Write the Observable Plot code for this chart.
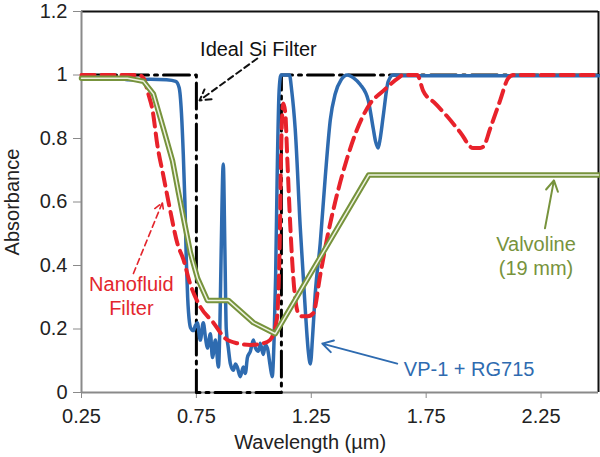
<!DOCTYPE html>
<html>
<head>
<meta charset="utf-8">
<script src="https://cdn.jsdelivr.net/npm/d3@7"></script>
<script src="https://cdn.jsdelivr.net/npm/@observablehq/plot@0.6"></script>
<style>
  html, body { margin: 0; padding: 0; background: #fff; }
  #chart { width: 600px; height: 457px; }
</style>
</head>
<body>
<div id="chart"></div>
<script>
// ---- Data ----
// Ideal Si filter (black dash-dot)
const idealWl  = [0.25, 0.75, 0.75, 1.12, 1.12, 2.5];
const idealAbs = [1.0, 1.0, 0.0, 0.0, 1.0, 1.0];

// VP-1 + RG715 (blue)
const vpWl = [0.25, 0.35, 0.42, 0.45, 0.55, 0.62, 0.66, 0.675, 0.685, 0.693, 0.70, 0.706, 0.712, 0.72,
  0.724, 0.737, 0.745, 0.754, 0.767, 0.78, 0.79, 0.798, 0.811, 0.82, 0.833, 0.846, 0.852, 0.858, 0.867, 0.874, 0.88,
  0.889, 0.898, 0.911, 0.92, 0.928, 0.941, 0.954, 0.963, 0.972, 0.985, 0.998, 1.007, 1.02, 1.028, 1.041, 1.05, 1.059,
  1.072, 1.08, 1.088, 1.095, 1.102, 1.11, 1.118, 1.155, 1.165, 1.18, 1.202, 1.224, 1.237, 1.246, 1.256, 1.267, 1.289,
  1.311, 1.333, 1.354, 1.38, 1.407, 1.435, 1.463, 1.498, 1.52, 1.53, 1.541, 1.55, 1.563, 1.585, 1.607, 1.65, 2.5];
const vpAbs = [0.995, 0.993, 0.99, 0.985, 0.987, 0.985, 0.98, 0.96, 0.88, 0.75, 0.6, 0.42, 0.3, 0.22,
  0.205, 0.195, 0.21, 0.22, 0.165, 0.22, 0.17, 0.14, 0.185, 0.11, 0.165, 0.08, 0.2, 0.45, 0.72, 0.45, 0.2,
  0.14, 0.09, 0.07, 0.09, 0.08, 0.05, 0.08, 0.06, 0.11, 0.13, 0.165, 0.14, 0.13, 0.155, 0.12, 0.15, 0.14,
  0.08, 0.05, 0.165, 0.37, 0.7, 0.95, 1.0, 1.0, 0.95, 0.83, 0.52, 0.26, 0.13, 0.09, 0.18, 0.31, 0.47,
  0.68, 0.86, 0.94, 0.985, 1.0, 0.99, 0.97, 0.92, 0.83, 0.79, 0.77, 0.8, 0.87, 0.98, 1.0, 0.998, 0.998];

// Nanofluid filter (red dashed)
const nanoWl = [0.25, 0.45, 0.5, 0.52, 0.541, 0.559, 0.58, 0.607, 0.637, 0.667, 0.693, 0.724, 0.767, 0.824, 0.876,
  0.928, 0.985, 1.04, 1.07, 1.1, 1.112, 1.12, 1.128, 1.137, 1.146, 1.159, 1.172, 1.193, 1.21, 1.235, 1.259, 1.289,
  1.32, 1.354, 1.407, 1.45, 1.506, 1.563, 1.628, 1.65, 1.711, 1.737, 1.79, 1.841, 1.898, 1.954, 1.985, 2.0, 2.028,
  2.072, 2.107, 2.13, 2.5];
const nanoAbs = [1.0, 1.0, 1.0, 0.99, 0.94, 0.89, 0.78, 0.68, 0.57, 0.47, 0.42, 0.34, 0.27, 0.22, 0.17,
  0.155, 0.15, 0.155, 0.165, 0.23, 0.45, 0.8, 0.91, 0.88, 0.73, 0.52, 0.36, 0.25, 0.24, 0.24, 0.25, 0.37,
  0.49, 0.6, 0.74, 0.83, 0.91, 0.95, 0.99, 1.0, 1.0, 0.95, 0.91, 0.87, 0.82, 0.77, 0.77, 0.775, 0.83,
  0.92, 0.99, 1.0, 1.0];

// Valvoline (19 mm) (green double line)
const valvWl  = [0.25, 0.45, 0.52, 0.563, 0.607, 0.646, 0.672, 0.702, 0.724, 0.755, 0.798, 0.889, 0.998, 1.093, 1.5, 2.5];
const valvAbs = [0.99, 0.99, 0.98, 0.94, 0.83, 0.73, 0.63, 0.52, 0.44, 0.36, 0.29, 0.29, 0.22, 0.185, 0.685, 0.685];

// Axis ticks
const xTicks = [0.25, 0.75, 1.25, 1.75, 2.25];
const xTickLabels = ["0.25", "0.75", "1.25", "1.75", "2.25"];
const yTicks = [0, 0.2, 0.4, 0.6, 0.8, 1.0, 1.2];
const yTickLabels = ["0", "0.2", "0.4", "0.6", "0.8", "1", "1.2"];
const xTitle = "Wavelength (µm)";
const yTitle = "Absorbance";

// Annotations (data coordinates)
const annoText = ["Ideal Si Filter", "Nanofluid\nFilter", "Valvoline\n(19 mm)", "VP-1 + RG715"];
const annoX = [1.02, 0.467, 2.228, 1.937];
const annoY = [1.083, 0.306, 0.432, 0.076];
const annoColor = ["#111111", "#E3262D", "#77933C", "#2E6BB0"];
const arrowX1 = [1.015, 0.476, 2.267, 1.624];
const arrowY1 = [1.052, 0.375, 0.517, 0.091];
const arrowX2 = [0.764, 0.602, 2.306, 1.298];
const arrowY2 = [0.92, 0.598, 0.668, 0.154];

// ---- Build tables ----
const zip = (xs, ys) => xs.map((x, i) => ({wl: x, abs: ys[i]}));
const ideal = zip(idealWl, idealAbs);
const vp = zip(vpWl, vpAbs);
const nano = zip(nanoWl, nanoAbs);
const valv = zip(valvWl, valvAbs);
const annos = annoText.map((t, i) => ({text: t, x: annoX[i], y: annoY[i], color: annoColor[i]}));
const arrows = arrowX1.map((x, i) => ({x1: x, y1: arrowY1[i], x2: arrowX2[i], y2: arrowY2[i], color: annoColor[i]}));

const font = "Liberation Sans, Arial, Helvetica, sans-serif";
const fs = 20;

const chart = Plot.plot({
  width: 600,
  height: 457,
  marginLeft: 81,
  marginRight: 2,
  marginTop: 11,
  marginBottom: 65,
  style: {fontFamily: font, fontSize: fs + "px", background: "#fff", color: "#222"},
  x: {domain: [0.25, 2.5]},
  y: {domain: [0, 1.2]},
  marks: [
    // frame: gray axes left & bottom, black top & right
    Plot.ruleY([1.2], {stroke: "#111", strokeWidth: 2}),
    Plot.ruleX([2.5], {stroke: "#111", strokeWidth: 2}),
    Plot.ruleX([0.25], {stroke: "#8a8a8a", strokeWidth: 2}),
    Plot.ruleY([0], {stroke: "#8a8a8a", strokeWidth: 2}),
    Plot.axisX({ticks: xTicks, tickFormat: (d, i) => xTickLabels[i], tickSize: 6, tickPadding: 10,
      stroke: "#8a8a8a", fill: "#222", label: null, fontSize: fs}),
    Plot.axisY({ticks: yTicks, tickFormat: (d, i) => yTickLabels[i], tickSize: 8, tickPadding: 6,
      stroke: "#8a8a8a", fill: "#222", label: null, fontSize: fs}),
    // axis titles
    Plot.text([xTitle], {x: 1.245, frameAnchor: "bottom", dy: 50, lineAnchor: "middle", textAnchor: "middle",
      text: d => d, fill: "#222", fontSize: fs}),
    Plot.text([yTitle], {y: 0.6, frameAnchor: "left", dx: -69, rotate: -90, lineAnchor: "middle", textAnchor: "middle",
      text: d => d, fill: "#222", fontSize: fs}),
    // series
    Plot.line(ideal, {x: "wl", y: "abs", stroke: "#000", strokeWidth: 3, strokeDasharray: "26,6,3,6"}),
    Plot.line(vp, {x: "wl", y: "abs", stroke: "#2E6BB0", strokeWidth: 3.5, curve: "monotone-x"}),
    Plot.line(nano, {x: "wl", y: "abs", stroke: "#E8222B", strokeWidth: 4, strokeDasharray: "13,7", curve: "monotone-x"}),
    Plot.line(valv, {x: "wl", y: "abs", stroke: "#77933C", strokeWidth: 5.5}),
    Plot.line(valv, {x: "wl", y: "abs", stroke: "#EEF3E2", strokeWidth: 1.5}),
    // annotations
    Plot.arrow(arrows.slice(0, 1), {x1: "x1", y1: "y1", x2: "x2", y2: "y2", stroke: "color", strokeWidth: 2, strokeDasharray: "6,4", headLength: 9}),
    Plot.arrow(arrows.slice(1, 2), {x1: "x1", y1: "y1", x2: "x2", y2: "y2", stroke: "color", strokeWidth: 1.6, strokeDasharray: "6,4", headLength: 9}),
    Plot.arrow(arrows.slice(2), {x1: "x1", y1: "y1", x2: "x2", y2: "y2", stroke: "color", strokeWidth: 2, headLength: 9}),
    Plot.text(annos, {x: "x", y: "y", text: "text", fill: "color", fontSize: fs, lineHeight: 1.2})
  ]
});
document.getElementById("chart").appendChild(chart);
</script>
</body>
</html>
